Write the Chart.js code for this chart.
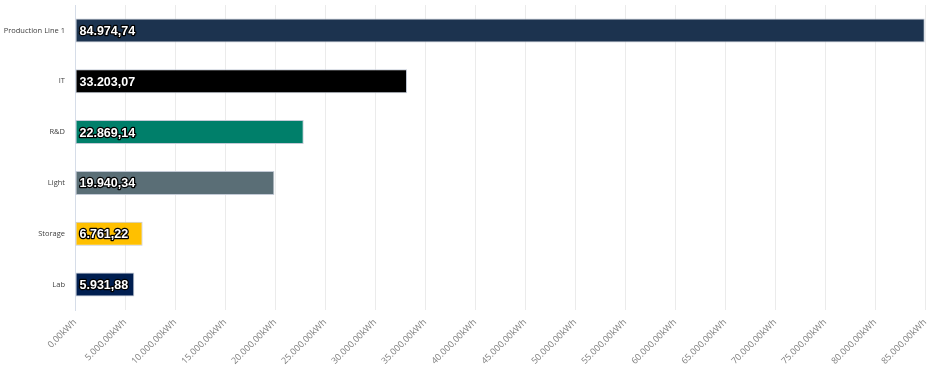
<!DOCTYPE html>
<html>
<head>
<meta charset="utf-8">
<script src="https://cdn.jsdelivr.net/npm/chart.js@4/dist/chart.umd.min.js"></script>
<style>
  html, body { margin: 0; padding: 0; background: #fff; }
  #wrap { width: 931px; height: 366px; }
</style>
</head>
<body>
<div id="wrap"><canvas id="canvas"></canvas></div>
<script>
var categories = ['Production Line 1', 'IT', 'R&D', 'Light', 'Storage', 'Lab'];
var consumption = [84974.74, 33203.07, 22869.14, 19940.34, 6761.22, 5931.88];
var barColors = ['#1c334f', '#000000', '#007f6a', '#5a6e76', '#ffc000', '#001e50'];

// german number style: 12.345,67
function fmt(v) {
    var parts = v.toFixed(2).split('.');
    var whole = parts[0].replace(/\B(?=(\d{3})+(?!\d))/g, '.');
    return whole + ',' + parts[1];
}

var barLabels = {
    id: 'barLabels',
    afterDatasetsDraw: function (chart) {
        var ctx = chart.ctx;
        var meta = chart.getDatasetMeta(0);
        ctx.save();
        ctx.font = 'bold 12.5px "Liberation Sans", Arial, sans-serif';
        ctx.textAlign = 'left';
        ctx.textBaseline = 'middle';
        ctx.lineJoin = 'round';
        meta.data.forEach(function (bar, i) {
            var txt = fmt(chart.data.datasets[0].data[i]);
            var x = bar.base + 4;
            var y = bar.y + 1;
            ctx.lineWidth = 2.5;
            ctx.strokeStyle = '#000000';
            ctx.strokeText(txt, x, y);
            ctx.fillStyle = '#ffffff';
            ctx.fillText(txt, x, y);
        });
        ctx.restore();
    }
};

new Chart(document.getElementById('canvas').getContext('2d'), {
    type: 'bar',
    data: {
        labels: categories,
        datasets: [{
            data: consumption,
            backgroundColor: barColors,
            borderColor: '#c3cad6',
            borderWidth: 1,
            borderSkipped: false,
            categoryPercentage: 0.8,
            barPercentage: 0.59
        }]
    },
    options: {
        indexAxis: 'y',
        responsive: true,
        maintainAspectRatio: false,
        animation: false,
        layout: { padding: { top: 5, right: 6, left: 0, bottom: 0 } },
        plugins: {
            legend: { display: false },
            tooltip: { enabled: false }
        },
        scales: {
            x: {
                min: 0,
                max: 85000,
                afterFit: function (scale) {
                    scale.height = 56;
                    scale.paddingLeft = 0;
                    scale.paddingRight = 0;
                },
                ticks: {
                    stepSize: 5000,
                    maxRotation: 45,
                    minRotation: 45,
                    padding: 7,
                    color: '#808080',
                    font: { size: 9, family: '"Open Sans", sans-serif' },
                    callback: function (v) { return fmt(v) + 'kWh'; }
                },
                grid: { color: '#ebebeb', drawTicks: false },
                border: { display: false }
            },
            y: {
                afterFit: function (scale) {
                    scale.width = 75;
                    scale.paddingTop = 0;
                    scale.paddingBottom = 0;
                },
                ticks: {
                    color: '#404040',
                    padding: 10,
                    font: { size: 7.5, family: '"Open Sans", sans-serif' }
                },
                grid: { display: false, drawTicks: false },
                border: { display: true, color: '#d6dde8', width: 1 }
            }
        }
    },
    plugins: [barLabels]
});
</script>
</body>
</html>
